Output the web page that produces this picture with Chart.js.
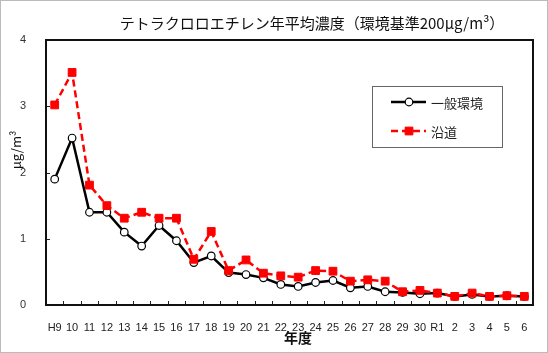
<!DOCTYPE html>
<html>
<head>
<meta charset="utf-8">
<script src="https://cdn.jsdelivr.net/npm/chart.js@4"></script>
<style>
html,body{margin:0;padding:0;background:#fff}
#wrap{width:548px;height:353px;position:relative}
</style>
</head>
<body>
<div id="wrap"><canvas id="chart"></canvas></div>
<script>
// ================= DATA =================
const years=["H9","10","11","12","13","14","15","16","17","18","19","20","21","22","23","24","25","26","27","28","29","30","R1","2","3","4","5","6"];
const general=[1.90,2.52,1.40,1.40,1.10,0.89,1.20,0.97,0.64,0.74,0.49,0.46,0.41,0.31,0.28,0.34,0.37,0.26,0.28,0.20,0.19,0.17,0.18,0.13,0.16,0.13,0.14,0.13];
const roadside=[3.02,3.51,1.81,1.50,1.31,1.40,1.31,1.31,0.69,1.11,0.52,0.68,0.48,0.44,0.42,0.52,0.51,0.36,0.38,0.36,0.20,0.22,0.18,0.13,0.18,0.13,0.14,0.13];
const seriesNames=["一般環境","沿道"];
const yMin=0, yMax=4, yStep=1;
const titleText="テトラクロロエチレン年平均濃度（環境基準200μg/m³）";
const xTitle="年度";
const yTitle="μg/m³";

const JP='"Noto Sans CJK JP", sans-serif';
const NUM='"Liberation Sans", Arial, sans-serif';

// ================= EXTRA DRAWING =================
const framePlugin={
id:"frame",
afterDraw(chart){
const ctx=chart.ctx, a=chart.chartArea;
ctx.save();

// outer dotted border
ctx.strokeStyle="#777";
ctx.lineWidth=1;
ctx.setLineDash([1,1]);
ctx.strokeRect(0.5,0.5,chart.width-1,chart.height-1);
ctx.setLineDash([]);

// inside tick marks
ctx.strokeStyle="#222";
ctx.lineWidth=1;
const y=chart.scales.y;
y.ticks.forEach((t,i)=>{
let py=Math.round(y.getPixelForTick(i))+0.5;
ctx.beginPath();ctx.moveTo(a.left,py);ctx.lineTo(a.left+4,py);ctx.stroke();
});
let n=years.length, w=(a.right-a.left)/n;
for(let i=1;i<n;i++){
let px=Math.round(a.left+w*i)+0.5;
ctx.beginPath();ctx.moveTo(px,a.bottom);ctx.lineTo(px,a.bottom-4);ctx.stroke();
}

// plot frame
ctx.strokeStyle="#111";
ctx.lineWidth=2;
ctx.strokeRect(a.left,a.top,a.right-a.left,a.bottom-a.top);

// titles
ctx.fillStyle="#111";
ctx.font="15px "+JP;
ctx.textAlign="center";
ctx.textBaseline="middle";
ctx.fillText(titleText,312,23);

ctx.font="bold 14px "+JP;
ctx.fillText(xTitle,298,338);

ctx.save();
ctx.translate(16,150);
ctx.rotate(-Math.PI/2);
ctx.font="13px "+JP;
ctx.fillText(yTitle,0,0);
ctx.restore();

// legend
const lx=372, ly=86, lw=130, lh=61;
ctx.fillStyle="#fff";
ctx.fillRect(lx,ly,lw,lh);
ctx.strokeStyle="#666";
ctx.lineWidth=1;
ctx.strokeRect(lx+0.5,ly+0.5,lw,lh);
chart.data.datasets.forEach((ds,i)=>{
let ry=102+i*29;
ctx.strokeStyle=ds.borderColor;
ctx.lineWidth=ds.borderWidth;
ctx.setLineDash(ds.borderDash||[]);
ctx.beginPath();ctx.moveTo(391,ry);ctx.lineTo(426,ry);ctx.stroke();
ctx.setLineDash([]);
ctx.fillStyle=ds.pointBackgroundColor;
ctx.strokeStyle=ds.pointBorderColor;
ctx.lineWidth=ds.pointBorderWidth;
ctx.beginPath();
if(ds.pointStyle==="rect"){
let s=ds.pointRadius*Math.SQRT1_2;
ctx.rect(409-s,ry-s,2*s,2*s);
}else{
ctx.arc(409,ry,ds.pointRadius,0,Math.PI*2);
}
ctx.fill();ctx.stroke();
ctx.fillStyle="#222";
ctx.font="13px "+JP;
ctx.textAlign="left";
ctx.fillText(ds.label,431,ry+1);
});

ctx.restore();
}
};

// ================= CHART =================
new Chart(document.getElementById("chart"),{
type:"line",
data:{
labels:years,
datasets:[{
label:seriesNames[0],
data:general,
borderColor:"#000",
borderWidth:2.5,
pointStyle:"circle",
pointRadius:3.8,
pointBorderWidth:1.2,
pointBackgroundColor:"#fff",
pointBorderColor:"#000",
tension:0,
order:1
},{
label:seriesNames[1],
data:roadside,
borderColor:"#ff0000",
borderWidth:2.5,
borderDash:[7,4],
pointStyle:"rect",
pointRadius:5.5,
pointBorderWidth:1,
pointBackgroundColor:"#ff0000",
pointBorderColor:"#ff0000",
tension:0,
order:0
}]
},
plugins:[framePlugin],
options:{
responsive:true,
maintainAspectRatio:false,
animation:false,
layout:{padding:{top:40,right:15,left:0,bottom:0}},
plugins:{legend:{display:false},tooltip:{enabled:false},title:{display:false}},
scales:{
x:{
type:"category",
offset:true,
grid:{display:false},
border:{display:false},
ticks:{autoSkip:false,maxRotation:0,padding:8,color:"#222",font:{family:NUM,size:11}},
afterFit(s){s.height=48;}
},
y:{
min:yMin,max:yMax,
grid:{display:false},
border:{display:false},
ticks:{stepSize:yStep,padding:12,color:"#333",font:{family:NUM,size:11}},
afterFit(s){s.width=46;}
}
}
}
});
</script>
</body>
</html>
